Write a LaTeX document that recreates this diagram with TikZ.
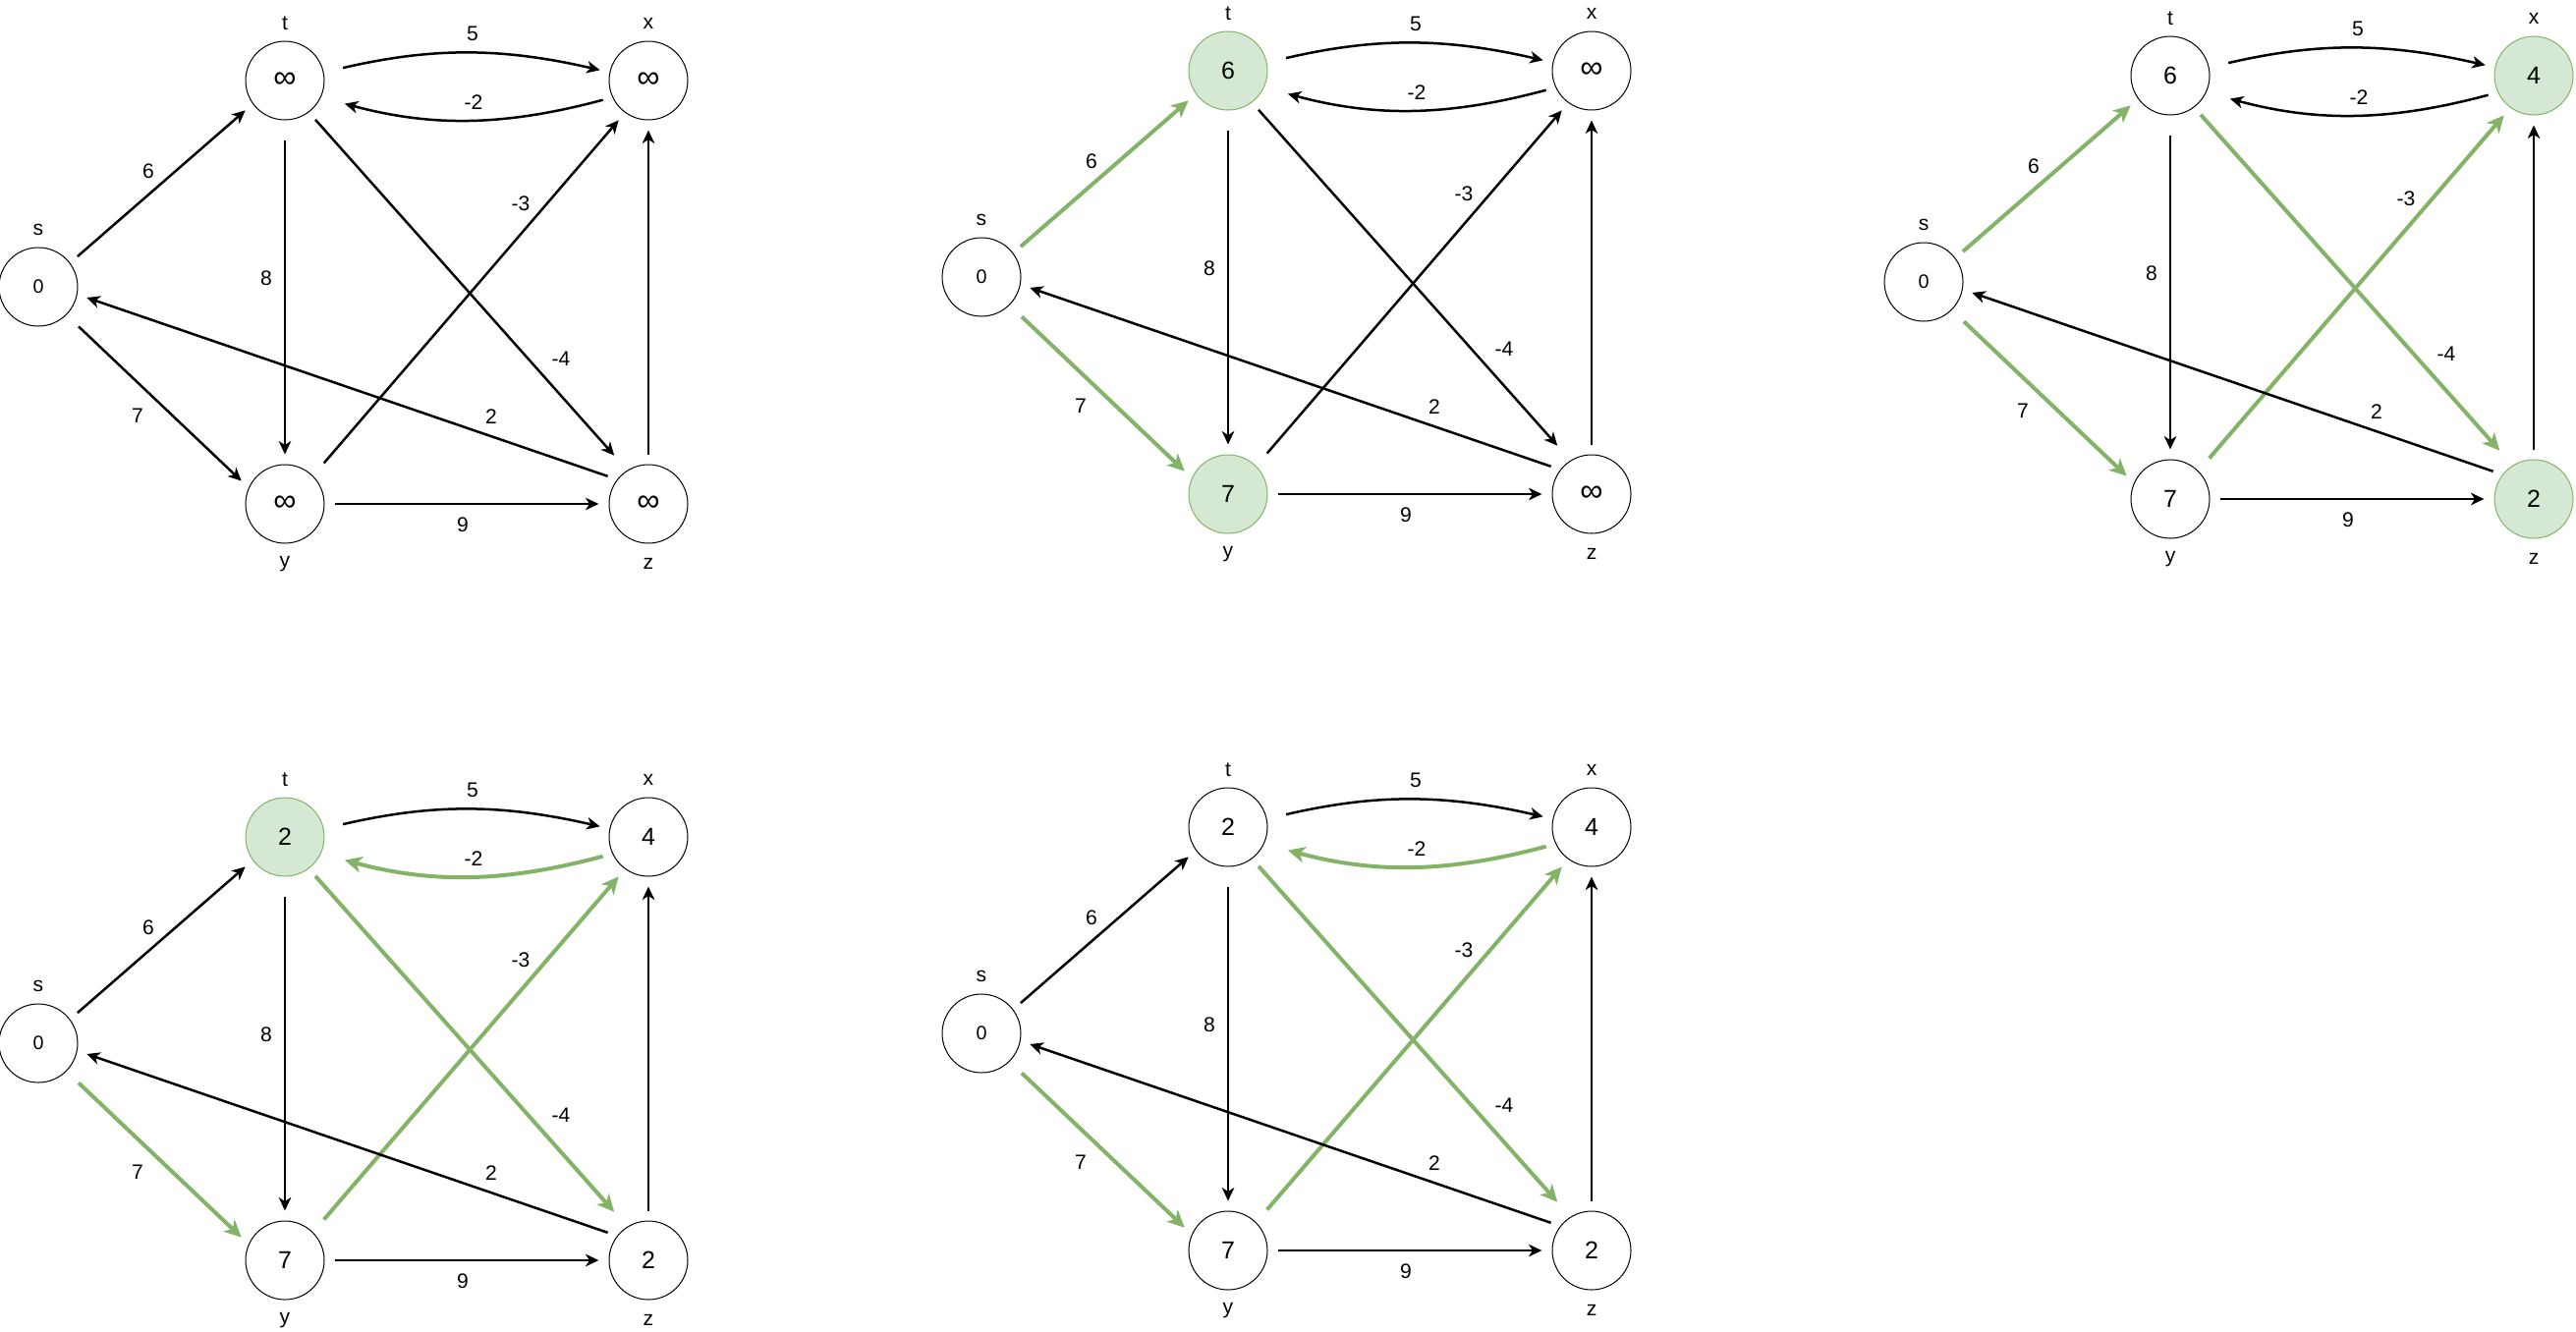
\documentclass[tikz,border=0pt]{standalone}
\usepackage{fontspec}
\setmainfont{Liberation Sans}
\usetikzlibrary{arrows.meta,positioning,calc}
\definecolor{okgreen}{HTML}{82B366}
\definecolor{okfill}{HTML}{D5E8D4}
\newcommand{\infsym}{{\fontsize{18.5}{20}\selectfont ∞}}
\tikzstyle{vertex}=[draw,line width=0.2mm,circle,minimum size=16mm,inner sep=0pt,font=\fontsize{14.2}{16}\selectfont]
\tikzstyle{source}=[vertex,font=\fontsize{11.2}{13}\selectfont]
\tikzstyle{settled}=[vertex,draw=okgreen,fill=okfill]
\tikzstyle{letter}=[inner sep=0pt,font=\fontsize{12}{14}\selectfont]
\tikzstyle{weight}=[inner sep=0pt,font=\fontsize{12}{14}\selectfont]
\tikzstyle{link}=[draw=black,line width=0.5mm,-{Stealth[length=2.7mm,width=2.5mm,inset=0.8mm]},shorten <=2mm,shorten >=2mm]
\tikzstyle{relaxed}=[link,draw=okgreen,line width=0.8mm,-{Stealth[length=3.5mm,width=3.3mm,inset=1mm]}]

\begin{document}
\begin{tikzpicture}[x=0.2mm,y=0.2mm]
\useasboundingbox (0,0) rectangle (2622,-1355);
% one graph per step: position of t, values, node styles, edge styles
\foreach \i/\gx/\gy/\vt/\vx/\vy/\vz/\st/\sx/\sy/\sz/\est/\esy/\ext/\etz/\eyx in {
  1/290/82/\infsym/\infsym/\infsym/\infsym/vertex/vertex/vertex/vertex/link/link/link/link/link,
  2/1250/72/6/\infsym/7/\infsym/settled/vertex/settled/vertex/relaxed/relaxed/link/link/link,
  3/2209/77/6/4/7/2/vertex/settled/vertex/settled/relaxed/relaxed/link/relaxed/relaxed,
  4/290/852/2/4/7/2/settled/vertex/vertex/vertex/link/relaxed/relaxed/relaxed/relaxed,
  5/1250/842/2/4/7/2/vertex/vertex/vertex/vertex/link/relaxed/relaxed/relaxed/relaxed}
{
\begin{scope}[shift={(\gx,-\gy)}]
\node [\st] (t\i) at (0,0) {\vt};
\node [\sx] (x\i) at (370,0) {\vx};
\node [source] (s\i) at (-251,-210) {0};
\node [\sy] (y\i) at (0,-431) {\vy};
\node [\sz] (z\i) at (370,-431) {\vz};
% vertex names
\node [letter] (ls\i) at ($(s\i)+(0,58)$) {s};
\node [letter] (lt\i) at ($(t\i)+(0,58)$) {t};
\node [letter] (lx\i) at ($(x\i)+(0,58)$) {x};
\node [letter] (ly\i) at ($(y\i)+(0,-61)$) {y};
\node [letter] (lz\i) at ($(z\i)+(0,-61)$) {z};
% edges
\draw [link,shorten <=4mm] (t\i.12) to[bend left=13] (x\i.168);
\draw [\ext,shorten >=5mm] (x\i.205) to[bend left=15] (t\i.-25);
\draw [\est] (s\i.37) -- (t\i.216);
\draw [\esy,shorten <=3.4mm] (s\i.-45) -- (y\i.156);
\draw [link,shorten <=4mm] (t\i) -- (y\i);
\draw [\eyx,shorten <=3.4mm] (y\i.45) -- (x\i.234);
\draw [\etz,shorten >=4mm] (t\i.-53) -- (z\i.122);
\draw [link] (z\i.142) -- (s\i.-11);
\draw [link] (y\i) -- (z\i);
\draw [link] (z\i) -- (x\i);
% weights
\node [weight] (wtx\i) at ($(t\i)+(191,48)$) {5};
\node [weight] (wxt\i) at ($(t\i)+(192,-22)$) {-2};
\node [weight] (wst\i) at ($(t\i)+(-139,-92)$) {6};
\node [weight] (wsy\i) at ($(t\i)+(-150,-341)$) {7};
\node [weight] (wty\i) at ($(t\i)+(-19,-201)$) {8};
\node [weight] (wyx\i) at ($(t\i)+(240,-125)$) {-3};
\node [weight] (wtz\i) at ($(t\i)+(281,-283)$) {-4};
\node [weight] (wzs\i) at ($(t\i)+(210,-342)$) {2};
\node [weight] (wyz\i) at ($(t\i)+(181,-452)$) {9};
\end{scope}
}
\end{tikzpicture}
\end{document}
